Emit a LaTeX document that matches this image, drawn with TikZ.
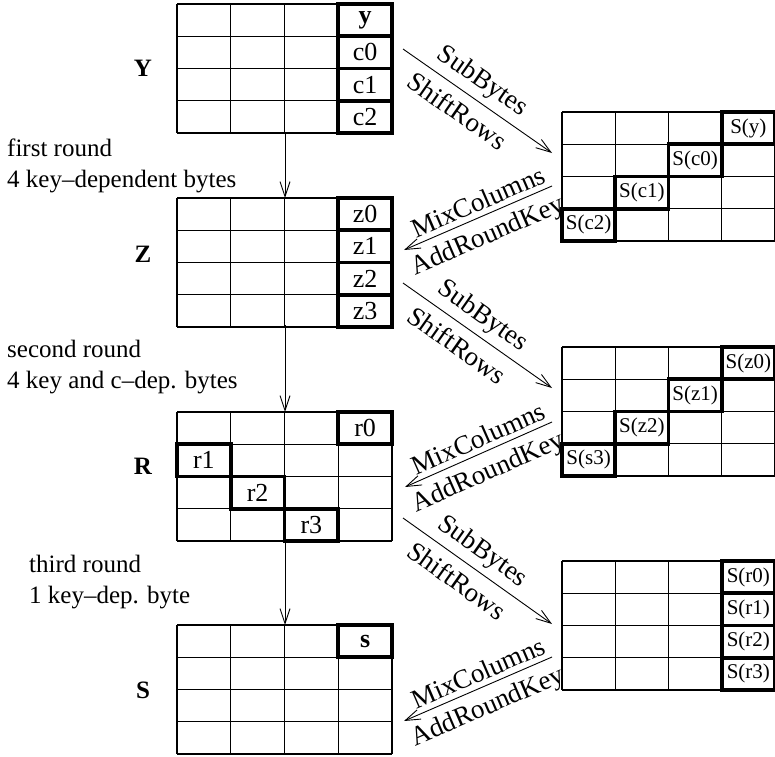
\documentclass[tikz,border=0pt]{standalone}
\usepackage{fontspec}
\setmainfont{Liberation Serif}
\usetikzlibrary{arrows.meta}
\newcommand{\LX}{177}
\newcommand{\CW}{53.75}
\newcommand{\RX}{562}
\newcommand{\RCW}{53.25}
\newcommand{\RH}{32.25}
% grid: x0, top, cell width
\newcommand{\cellgrid}[3]{%
  \foreach \i in {0,...,4} {%
    \draw[gridline] ({#1+\i*#3},#2) -- ({#1+\i*#3},{#2+4*\RH});
    \draw[gridline] (#1,{#2+\i*\RH}) -- ({#1+4*#3},{#2+\i*\RH});
  }}
% left cell: name, top, col, row, text
\newcommand{\lcell}[5]{\node[keycell, lcelltxt, minimum width=\CW pt] (#1) at ({\LX+(#3-0.5)*\CW},{#2+(#4-0.5)*\RH}) {#5};}
\newcommand{\rcell}[5]{\node[keycell, rcelltxt, minimum width=\RCW pt] (#1) at ({\RX+(#3-0.5)*\RCW},{#2+(#4-0.5)*\RH}) {#5};}
\begin{document}
\begin{tikzpicture}[x=1pt,y=-1pt,
  gridline/.style={line width=1.3pt},
  keycell/.style={draw, line width=3.6pt, minimum height=\RH pt, inner sep=0pt},
  lcelltxt/.style={font=\fontsize{26}{30}\selectfont},
  rcelltxt/.style={font=\fontsize{21}{24}\selectfont},
  lbl/.style={font=\fontsize{25}{30}\selectfont, anchor=base west, inner sep=0pt},
  statename/.style={font=\fontsize{25}{30}\selectfont\bfseries, inner sep=0pt},
  oplbl/.style={font=\fontsize{27}{32}\selectfont, sloped},
  flow/.style={-{Straight Barb[length=15pt,width=10pt]}, line width=0.9pt}]
\useasboundingbox (0,0) rectangle (775,756);

% left grids
\cellgrid{\LX}{4}{\CW}
\cellgrid{\LX}{198}{\CW}
\cellgrid{\LX}{412}{\CW}
\cellgrid{\LX}{625}{\CW}
% right grids
\cellgrid{\RX}{112}{\RCW}
\cellgrid{\RX}{347}{\RCW}
\cellgrid{\RX}{561}{\RCW}

% Y
\lcell{y}{4}{4}{1}{\textbf{y}}
\lcell{c0}{4}{4}{2}{c0}
\lcell{c1}{4}{4}{3}{c1}
\lcell{c2}{4}{4}{4}{c2}
% right 1
\rcell{Sy}{112}{4}{1}{S(y)}
\rcell{Sc0}{112}{3}{2}{S(c0)}
\rcell{Sc1}{112}{2}{3}{S(c1)}
\rcell{Sc2}{112}{1}{4}{S(c2)}
% Z
\lcell{z0}{198}{4}{1}{z0}
\lcell{z1}{198}{4}{2}{z1}
\lcell{z2}{198}{4}{3}{z2}
\lcell{z3}{198}{4}{4}{z3}
% right 2
\rcell{Sz0}{347}{4}{1}{S(z0)}
\rcell{Sz1}{347}{3}{2}{S(z1)}
\rcell{Sz2}{347}{2}{3}{S(z2)}
\rcell{Ss3}{347}{1}{4}{S(s3)}
% R
\lcell{r0}{412}{4}{1}{r0}
\lcell{r1}{412}{1}{2}{r1}
\lcell{r2}{412}{2}{3}{r2}
\lcell{r3}{412}{3}{4}{r3}
% right 3
\rcell{Sr0}{561}{4}{1}{S(r0)}
\rcell{Sr1}{561}{4}{2}{S(r1)}
\rcell{Sr2}{561}{4}{3}{S(r2)}
\rcell{Sr3}{561}{4}{4}{S(r3)}
% S
\lcell{s}{625}{4}{1}{\textbf{s}}

% state names
\node[statename] (nY) at (143,68) {Y};
\node[statename] (nZ) at (143,254) {Z};
\node[statename] (nR) at (143,466) {R};
\node[statename] (nS) at (143,690) {S};

% round texts
\node[lbl] (t1a) at (7,156) {first round};
\node[lbl] (t1b) at (7,187) {4 key--dependent bytes};
\node[lbl] (t2a) at (7,357) {second round};
\node[lbl] (t2b) at (7,388) {4 key and c--dep. bytes};
\node[lbl] (t3a) at (29,572) {third round};
\node[lbl] (t3b) at (29,603) {1 key--dep. byte};

% vertical arrows
\coordinate (v1s) at (285,133); \coordinate (v1e) at (285,198);
\coordinate (v2s) at (285,325); \coordinate (v2e) at (285,412);
\coordinate (v3s) at (285,539); \coordinate (v3e) at (285,625);
\draw[flow] (v1s) -- (v1e);
\draw[flow] (v2s) -- (v2e);
\draw[flow] (v3s) -- (v3e);

% diagonal arrows
\coordinate (a1s) at (403,49);  \coordinate (a1e) at (552,153);
\coordinate (b1s) at (552,186); \coordinate (b1e) at (404,250);
\coordinate (a2s) at (403,283); \coordinate (a2e) at (552,388);
\coordinate (b2s) at (552,422); \coordinate (b2e) at (405,487);
\coordinate (a3s) at (403,518); \coordinate (a3e) at (552,624);
\coordinate (b3s) at (552,657); \coordinate (b3e) at (404,721);
\foreach \k in {1,2,3} {
  \draw[flow] (a\k s) -- node[oplbl, pos=0.46, above, inner sep=5.5pt] {SubBytes} node[oplbl, pos=0.44, below, inner sep=9.5pt] {ShiftRows} (a\k e);
  \draw[flow] (b\k s) -- node[oplbl, pos=0.46, above, inner sep=5pt] {MixColumns} node[oplbl, pos=0.49, below, inner sep=8.5pt] {AddRoundKey} (b\k e);
}
\end{tikzpicture}
\end{document}
